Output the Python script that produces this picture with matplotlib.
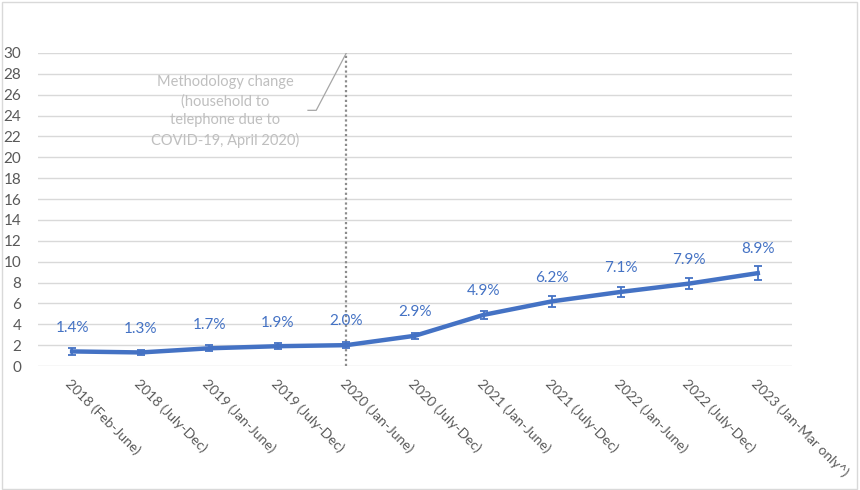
import matplotlib.pyplot as plt
from matplotlib.patches import Rectangle

periods = ["2018 (Feb-June)", "2018 (July-Dec)", "2019 (Jan-June)", "2019 (July-Dec)",
           "2020 (Jan-June)", "2020 (July-Dec)", "2021 (Jan-June)", "2021 (July-Dec)",
           "2022 (Jan-June)", "2022 (July-Dec)", "2023 (Jan-Mar only^)"]
values = [1.4, 1.3, 1.7, 1.9, 2.0, 2.9, 4.9, 6.2, 7.1, 7.9, 8.9]
errors = [0.3, 0.2, 0.3, 0.3, 0.3, 0.3, 0.4, 0.5, 0.5, 0.5, 0.7]
y_ticks = list(range(0, 31, 2))
change_idx = 4
note = "Methodology change\n(household to\ntelephone due to\nCOVID-19, April 2020)"

plt.rcParams['font.family'] = ['Lato', 'DejaVu Sans']

blue = "#4472c4"
fig = plt.figure(figsize=(8.6, 4.9), dpi=100)
ax = fig.add_axes([0.044, 0.253, 0.877, 0.639])

x = list(range(len(values)))
ax.errorbar(x, values, yerr=errors, color=blue, lw=3.2, capsize=3,
            elinewidth=1.3, capthick=1.3, zorder=3)
for xi, v in zip(x, values):
    ax.annotate(f"{v:.1f}%", (xi, v), xytext=(0, 12), textcoords="offset points",
                ha="center", va="bottom", color=blue, fontsize=11, zorder=4)

# methodology change marker
ax.plot([change_idx, change_idx], [0, 30], color="#8c8c8c", lw=1.6,
        ls=(0, (1, 1.2)), zorder=2)
ax.plot([3.44, 3.56, change_idx], [24.5, 24.5, 30], color="#a6a6a6", lw=0.9)
ax.text(2.23, 24.4, note, ha="center", va="center", color="#bfbfbf",
        fontsize=10.5, linespacing=1.45)

ax.set_xlim(-0.5, len(values) - 0.5)
ax.set_ylim(0, 30)
ax.set_yticks(y_ticks)
ax.yaxis.grid(True, color="#d9d9d9", lw=1)
ax.set_axisbelow(True)
for s in ax.spines.values():
    s.set_visible(False)
ax.tick_params(axis="y", length=0, pad=12, labelsize=11, labelcolor="#595959")
ax.tick_params(axis="x", length=0, pad=8, labelsize=10, labelcolor="#595959")
ax.set_xticks(x)
ax.set_xticklabels(periods, rotation=-45, ha="left", va="top", rotation_mode="anchor")

fig.patches.append(Rectangle((0.002, 0.003), 0.995, 0.993, transform=fig.transFigure,
                             fill=False, edgecolor="#d9d9d9", lw=1))

fig.savefig("out.png", dpi=100)
